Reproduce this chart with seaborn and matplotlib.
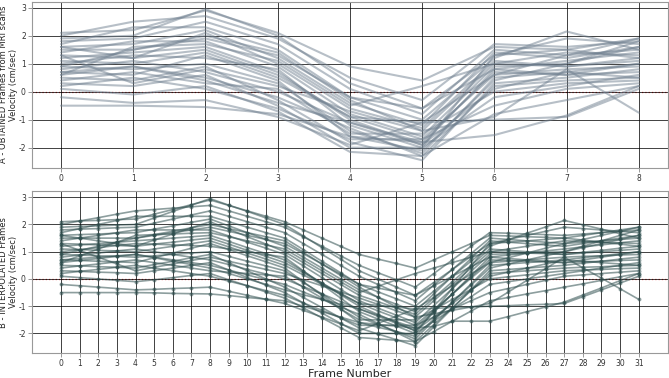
import numpy as np
import pandas as pd
import seaborn as sns
import matplotlib.pyplot as plt

# velocity (cm/sec) per line, frames 0-8 as obtained from MRI scans
obtained = [
    [2.1, 2.2, 2.9, 2.1, 0.9, 0.4, 1.6, 1.5, 1.9],
    [2.0, 2.5, 2.7, 1.9, 0.5, -0.3, 1.7, 1.6, 1.8],
    [1.9, 2.0, 2.95, 2.0, 0.3, -0.6, 1.3, 1.9, 1.7],
    [1.8, 1.9, 2.5, 1.7, 0.1, -0.8, 1.5, 1.3, 1.9],
    [1.7, 2.3, 2.3, 1.5, -0.2, -1.0, 1.2, 2.15, 1.5],
    [1.6, 1.7, 2.2, 1.2, -0.4, -1.2, 1.4, 1.2, 1.6],
    [1.5, 1.5, 2.0, 1.4, -0.3, -1.4, 1.0, 1.4, 1.3],
    [1.4, 1.8, 1.8, 0.9, -0.8, -1.6, 0.9, 1.0, 1.8],
    [1.3, 1.2, 2.1, 1.0, -0.6, -1.3, 1.1, 0.9, 1.1],
    [1.2, 1.4, 1.6, 0.7, -1.0, -1.9, 0.8, 1.1, 1.4],
    [1.1, 1.0, 1.4, 0.5, -0.9, -1.7, 0.6, 0.8, 0.9],
    [1.0, 1.3, 1.2, 0.8, -1.2, -2.0, 1.3, 1.5, 1.2],
    [0.9, 0.8, 1.0, 0.3, -1.4, -2.2, 0.5, 0.7, 1.0],
    [0.8, 1.1, 0.7, 0.0, -1.1, -1.8, 0.7, 0.6, 0.7],
    [0.7, 0.6, 1.3, 0.4, -1.6, -2.1, 0.4, 1.0, 1.6],
    [0.6, 0.9, 0.5, -0.2, -1.3, -2.3, 0.2, 0.4, 0.5],
    [0.5, 0.4, 0.9, -0.3, -1.8, -2.45, 0.3, 0.5, 0.8],
    [0.4, 0.7, 0.3, 0.1, -1.5, -1.5, 0.0, 0.3, 0.4],
    [0.3, 0.2, 0.6, -0.5, -2.0, -2.0, -0.2, 0.2, 0.6],
    [0.2, 0.5, 0.1, -0.6, -1.7, -1.7, -0.5, 0.1, 0.3],
    [0.1, -0.1, 0.2, -0.7, -2.15, -2.3, -0.8, -0.3, 0.2],
    [-0.2, -0.4, -0.3, -0.9, -1.9, -1.1, -1.0, -0.9, 0.1],
    [-0.5, -0.5, -0.55, -0.8, -1.6, -1.8, -1.55, -0.85, 0.2],
    [0.6, 1.6, 1.7, 1.1, -0.5, 0.2, 1.0, 0.9, 1.2],
    [1.3, 0.3, 0.8, 0.2, -0.7, -1.4, -0.9, 0.8, -0.75],
    [0.9, 1.5, 1.9, 1.3, -0.2, -0.6, 0.8, 0.6, 1.0],
    [1.6, 1.2, 1.5, 0.6, -0.9, -1.1, 0.6, 1.3, 1.5],
    [0.7, 0.9, 0.4, -0.4, -1.1, -1.9, 0.1, 0.7, 0.5],
]

# velocity (cm/sec) per line, frames 0-31 after interpolation
interpolated = [
    [2.1, 2.13, 2.15, 2.18, 2.2, 2.38, 2.55, 2.73, 2.9, 2.7, 2.5, 2.3, 2.1, 1.8, 1.5, 1.2, 0.9, 0.73, 0.57, 0.4, 0.7, 1.0, 1.3, 1.6, 1.58, 1.55, 1.53, 1.5, 1.6, 1.7, 1.8, 1.9],
    [2.0, 2.13, 2.25, 2.38, 2.5, 2.55, 2.6, 2.65, 2.7, 2.5, 2.3, 2.1, 1.9, 1.55, 1.2, 0.85, 0.5, 0.23, -0.03, -0.3, 0.2, 0.7, 1.2, 1.7, 1.68, 1.65, 1.63, 1.6, 1.65, 1.7, 1.75, 1.8],
    [1.9, 1.93, 1.95, 1.98, 2.0, 2.24, 2.48, 2.71, 2.95, 2.71, 2.48, 2.24, 2.0, 1.58, 1.15, 0.73, 0.3, 0.0, -0.3, -0.6, -0.13, 0.35, 0.83, 1.3, 1.45, 1.6, 1.75, 1.9, 1.85, 1.8, 1.75, 1.7],
    [1.8, 1.83, 1.85, 1.88, 1.9, 2.05, 2.2, 2.35, 2.5, 2.3, 2.1, 1.9, 1.7, 1.3, 0.9, 0.5, 0.1, -0.2, -0.5, -0.8, -0.23, 0.35, 0.93, 1.5, 1.45, 1.4, 1.35, 1.3, 1.45, 1.6, 1.75, 1.9],
    [1.7, 1.85, 2.0, 2.15, 2.3, 2.3, 2.3, 2.3, 2.3, 2.1, 1.9, 1.7, 1.5, 1.08, 0.65, 0.23, -0.2, -0.47, -0.73, -1.0, -0.45, 0.1, 0.65, 1.2, 1.44, 1.68, 1.91, 2.15, 1.99, 1.83, 1.66, 1.5],
    [1.6, 1.63, 1.65, 1.68, 1.7, 1.83, 1.95, 2.08, 2.2, 1.95, 1.7, 1.45, 1.2, 0.8, 0.4, 0.0, -0.4, -0.67, -0.93, -1.2, -0.55, 0.1, 0.75, 1.4, 1.35, 1.3, 1.25, 1.2, 1.3, 1.4, 1.5, 1.6],
    [1.5, 1.5, 1.5, 1.5, 1.5, 1.63, 1.75, 1.88, 2.0, 1.85, 1.7, 1.55, 1.4, 0.98, 0.55, 0.13, -0.3, -0.67, -1.03, -1.4, -0.8, -0.2, 0.4, 1.0, 1.1, 1.2, 1.3, 1.4, 1.38, 1.35, 1.33, 1.3],
    [1.4, 1.5, 1.6, 1.7, 1.8, 1.8, 1.8, 1.8, 1.8, 1.58, 1.35, 1.13, 0.9, 0.48, 0.05, -0.38, -0.8, -1.07, -1.33, -1.6, -0.98, -0.35, 0.28, 0.9, 0.93, 0.95, 0.98, 1.0, 1.2, 1.4, 1.6, 1.8],
    [1.3, 1.28, 1.25, 1.23, 1.2, 1.43, 1.65, 1.88, 2.1, 1.83, 1.55, 1.28, 1.0, 0.6, 0.2, -0.2, -0.6, -0.83, -1.07, -1.3, -0.7, -0.1, 0.5, 1.1, 1.05, 1.0, 0.95, 0.9, 0.95, 1.0, 1.05, 1.1],
    [1.2, 1.25, 1.3, 1.35, 1.4, 1.45, 1.5, 1.55, 1.6, 1.38, 1.15, 0.93, 0.7, 0.28, -0.15, -0.58, -1.0, -1.3, -1.6, -1.9, -1.23, -0.55, 0.13, 0.8, 0.88, 0.95, 1.03, 1.1, 1.18, 1.25, 1.33, 1.4],
    [1.1, 1.08, 1.05, 1.03, 1.0, 1.1, 1.2, 1.3, 1.4, 1.18, 0.95, 0.73, 0.5, 0.15, -0.2, -0.55, -0.9, -1.17, -1.43, -1.7, -1.13, -0.55, 0.03, 0.6, 0.65, 0.7, 0.75, 0.8, 0.83, 0.85, 0.88, 0.9],
    [1.0, 1.08, 1.15, 1.23, 1.3, 1.28, 1.25, 1.23, 1.2, 1.1, 1.0, 0.9, 0.8, 0.3, -0.2, -0.7, -1.2, -1.47, -1.73, -2.0, -1.18, -0.35, 0.48, 1.3, 1.35, 1.4, 1.45, 1.5, 1.43, 1.35, 1.28, 1.2],
    [0.9, 0.88, 0.85, 0.83, 0.8, 0.85, 0.9, 0.95, 1.0, 0.83, 0.65, 0.48, 0.3, -0.13, -0.55, -0.98, -1.4, -1.67, -1.93, -2.2, -1.53, -0.85, -0.18, 0.5, 0.55, 0.6, 0.65, 0.7, 0.78, 0.85, 0.93, 1.0],
    [0.8, 0.88, 0.95, 1.03, 1.1, 1.0, 0.9, 0.8, 0.7, 0.53, 0.35, 0.18, 0.0, -0.28, -0.55, -0.83, -1.1, -1.33, -1.57, -1.8, -1.18, -0.55, 0.08, 0.7, 0.68, 0.65, 0.63, 0.6, 0.63, 0.65, 0.68, 0.7],
    [0.7, 0.68, 0.65, 0.63, 0.6, 0.78, 0.95, 1.13, 1.3, 1.08, 0.85, 0.63, 0.4, -0.1, -0.6, -1.1, -1.6, -1.77, -1.93, -2.1, -1.48, -0.85, -0.23, 0.4, 0.55, 0.7, 0.85, 1.0, 1.15, 1.3, 1.45, 1.6],
    [0.6, 0.68, 0.75, 0.83, 0.9, 0.8, 0.7, 0.6, 0.5, 0.33, 0.15, -0.03, -0.2, -0.48, -0.75, -1.03, -1.3, -1.63, -1.97, -2.3, -1.68, -1.05, -0.43, 0.2, 0.25, 0.3, 0.35, 0.4, 0.43, 0.45, 0.48, 0.5],
    [0.5, 0.48, 0.45, 0.43, 0.4, 0.53, 0.65, 0.78, 0.9, 0.6, 0.3, 0.0, -0.3, -0.68, -1.05, -1.43, -1.8, -2.02, -2.23, -2.45, -1.76, -1.08, -0.39, 0.3, 0.35, 0.4, 0.45, 0.5, 0.58, 0.65, 0.73, 0.8],
    [0.4, 0.48, 0.55, 0.63, 0.7, 0.6, 0.5, 0.4, 0.3, 0.25, 0.2, 0.15, 0.1, -0.3, -0.7, -1.1, -1.5, -1.5, -1.5, -1.5, -1.13, -0.75, -0.38, 0.0, 0.08, 0.15, 0.23, 0.3, 0.33, 0.35, 0.38, 0.4],
    [0.3, 0.28, 0.25, 0.23, 0.2, 0.3, 0.4, 0.5, 0.6, 0.33, 0.05, -0.23, -0.5, -0.88, -1.25, -1.63, -2.0, -2.0, -2.0, -2.0, -1.55, -1.1, -0.65, -0.2, -0.1, 0.0, 0.1, 0.2, 0.3, 0.4, 0.5, 0.6],
    [0.2, 0.28, 0.35, 0.43, 0.5, 0.4, 0.3, 0.2, 0.1, -0.08, -0.25, -0.43, -0.6, -0.88, -1.15, -1.43, -1.7, -1.7, -1.7, -1.7, -1.4, -1.1, -0.8, -0.5, -0.35, -0.2, -0.05, 0.1, 0.15, 0.2, 0.25, 0.3],
    [0.1, 0.05, 0.0, -0.05, -0.1, -0.03, 0.05, 0.13, 0.2, -0.03, -0.25, -0.48, -0.7, -1.06, -1.43, -1.79, -2.15, -2.2, -2.25, -2.3, -1.93, -1.55, -1.18, -0.8, -0.68, -0.55, -0.43, -0.3, -0.18, -0.05, 0.08, 0.2],
    [-0.2, -0.25, -0.3, -0.35, -0.4, -0.38, -0.35, -0.33, -0.3, -0.45, -0.6, -0.75, -0.9, -1.15, -1.4, -1.65, -1.9, -1.63, -1.37, -1.1, -1.08, -1.05, -1.03, -1.0, -0.98, -0.95, -0.93, -0.9, -0.65, -0.4, -0.15, 0.1],
    [-0.5, -0.5, -0.5, -0.5, -0.5, -0.51, -0.53, -0.54, -0.55, -0.61, -0.68, -0.74, -0.8, -1.0, -1.2, -1.4, -1.6, -1.67, -1.73, -1.8, -1.74, -1.55, -1.55, -1.55, -1.38, -1.2, -1.03, -0.85, -0.59, -0.33, -0.06, 0.2],
    [0.6, 0.85, 1.1, 1.35, 1.6, 1.63, 1.65, 1.68, 1.7, 1.55, 1.4, 1.25, 1.1, 0.7, 0.3, -0.1, -0.5, -0.27, -0.03, 0.2, 0.4, 0.6, 0.8, 1.0, 0.98, 0.95, 0.93, 0.9, 0.98, 1.05, 1.13, 1.2],
    [1.3, 1.05, 0.8, 0.55, 0.3, 0.43, 0.55, 0.68, 0.8, 0.65, 0.5, 0.35, 0.2, -0.03, -0.25, -0.48, -0.7, -0.93, -1.17, -1.4, -1.28, -1.15, -1.03, -0.9, -0.48, -0.05, 0.38, 0.8, 0.41, 0.03, -0.36, -0.75],
    [0.9, 1.05, 1.2, 1.35, 1.5, 1.6, 1.7, 1.8, 1.9, 1.75, 1.6, 1.45, 1.3, 0.93, 0.55, 0.18, -0.2, -0.33, -0.47, -0.6, -0.25, 0.1, 0.45, 0.8, 0.75, 0.7, 0.65, 0.6, 0.7, 0.8, 0.9, 1.0],
    [1.6, 1.5, 1.4, 1.3, 1.2, 1.28, 1.35, 1.43, 1.5, 1.28, 1.05, 0.83, 0.6, 0.23, -0.15, -0.53, -0.9, -0.97, -1.03, -1.1, -0.68, -0.25, 0.18, 0.6, 0.78, 0.95, 1.13, 1.3, 1.35, 1.4, 1.45, 1.5],
    [0.7, 0.75, 0.8, 0.85, 0.9, 0.78, 0.65, 0.53, 0.4, 0.2, 0.0, -0.2, -0.4, -0.58, -0.75, -0.93, -1.1, -1.37, -1.63, -1.9, -1.4, -0.9, -0.4, 0.1, 0.25, 0.4, 0.55, 0.7, 0.65, 0.6, 0.55, 0.5],
]

obtained_ticks = list(range(9))
interp_ticks = list(range(32))


def to_long(rows):
    recs = []
    for i, row in enumerate(rows):
        for f, v in enumerate(row):
            recs.append((i, f, v))
    return pd.DataFrame(recs, columns=["line", "frame", "velocity"])


sns.set_style("whitegrid")
plt.rcParams["font.family"] = ["DejaVu Sans"]
plt.rcParams["axes.unicode_minus"] = False

fig = plt.figure(figsize=(6.69, 3.78), dpi=100)
ax1 = fig.add_axes([0.048, 0.556, 0.950, 0.440])
ax2 = fig.add_axes([0.048, 0.066, 0.950, 0.428])

sns.lineplot(data=to_long(obtained), x="frame", y="velocity", units="line",
             estimator=None, color="slategray", alpha=0.5, lw=1.5, ax=ax1)
sns.lineplot(data=to_long(interpolated), x="frame", y="velocity", units="line",
             estimator=None, color="darkslategray", alpha=0.55, lw=1.2,
             marker="o", markersize=2.8, markeredgewidth=0, ax=ax2)

for ax, ticks, lab in [(ax1, obtained_ticks, "A - OBTAINED Frames from MRI scans\nVelocity (cm/sec)"),
                       (ax2, interp_ticks, "B - INTERPOLATED Frames\nVelocity (cm/sec)")]:
    ax.axhline(0, color="red", ls=":", lw=0.9, alpha=0.8, zorder=0.5)
    ax.set_xticks(ticks)
    ax.set_yticks([-2, -1, 0, 1, 2, 3])
    ax.grid(True, color="black", alpha=0.75, lw=0.7)
    ax.set_axisbelow(True)
    ax.tick_params(labelsize=5.5, pad=1.5, length=3, width=0.6,
                   color="#888888", labelcolor="#333333", left=True, bottom=True)
    ax.set_ylabel(lab, fontsize=6, linespacing=1.15)
    ax.yaxis.set_label_coords(-0.022, 0.5)
    for s in ax.spines.values():
        s.set_color("#999999")

ax1.set_xlabel("")
ax2.set_xlabel("Frame Number", fontsize=8, labelpad=0.5)

fig.savefig("out.png", dpi=100)
